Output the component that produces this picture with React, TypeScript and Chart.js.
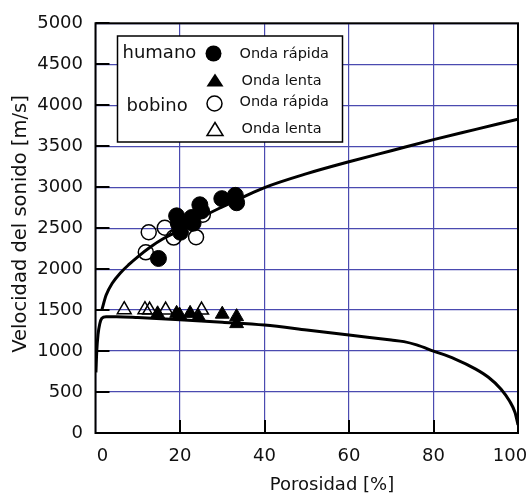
import React, { useEffect, useRef } from "react";
import { Chart, registerables } from "chart.js";

Chart.register(...registerables);

// Measured sound speed in bone samples: porosity [%] vs velocity [m/s]
const humanFastPorosity = [14.9, 19.2, 19.6, 20.1, 22.8, 23.1, 24.7, 25.1, 29.9, 33.1, 33.4];
const humanFastVelocity = [2130, 2650, 2560, 2450, 2630, 2560, 2785, 2710, 2860, 2900, 2810];

const humanSlowPorosity = [14.7, 19.2, 19.9, 22.4, 24.4, 30.0, 33.4, 33.4];
const humanSlowVelocity = [1455, 1460, 1440, 1460, 1420, 1450, 1420, 1335];

const bovineFastPorosity = [11.9, 12.6, 16.4, 18.5, 23.8, 25.4];
const bovineFastVelocity = [2205, 2450, 2505, 2385, 2390, 2665];

const bovineSlowPorosity = [6.8, 11.7, 12.8, 16.6, 25.1];
const bovineSlowVelocity = [1505, 1505, 1500, 1500, 1500];

// Theoretical curves (fast and slow wave)
const fastCurvePorosity = [1.5, 2.5, 4, 6, 8, 10, 13, 16, 20, 25, 30, 35, 40, 50, 60, 70, 80, 90, 100];
const fastCurveVelocity = [1500, 1680, 1830, 1960, 2060, 2150, 2270, 2370, 2475, 2630, 2760, 2880, 2995, 3165, 3310, 3445, 3580, 3705, 3830];

const slowCurvePorosity = [0.1, 0.3, 0.6, 1.0, 1.5, 2.5, 5, 10, 20, 30, 40, 50, 60, 70, 73, 76, 80, 85, 90, 93, 96, 98, 99.3, 100];
const slowCurveVelocity = [740, 1000, 1200, 1330, 1400, 1420, 1420, 1410, 1382, 1352, 1318, 1258, 1195, 1135, 1115, 1075, 1000, 905, 780, 680, 535, 390, 250, 100];

// Axes
const xTickValues = [0, 20, 40, 60, 80, 100];
const xTickLabels = ["0", "20", "40", "60", "80", "100"];
const yTickValues = [500, 1000, 1500, 2000, 2500, 3000, 3500, 4000, 4500, 5000];

const xTitle = "Porosidad [%]";
const yTitle = "Velocidad del sonido [m/s]";
const legendGroups = ["humano", "bobino"];
const legendWaves = ["Onda rápida", "Onda lenta", "Onda rápida", "Onda lenta"];

const FONT = '"DejaVu Sans", sans-serif';
const INK = "#111";
const GRID = "#4a4ab0";
const TICK_SIZE = 18;

const pairs = (xs: number[], ys: number[]) => xs.map((x, i) => ({ x, y: ys[i] }));

function triangle(ctx: CanvasRenderingContext2D, cx: number, cy: number, w: number, h: number) {
  ctx.beginPath();
  ctx.moveTo(cx, cy - h / 2);
  ctx.lineTo(cx + w / 2, cy + h / 2);
  ctx.lineTo(cx - w / 2, cy + h / 2);
  ctx.closePath();
}

const decor = {
  id: "decor",
  afterDraw(chart: any) {
    const { ctx, chartArea: a } = chart;
    const xs = chart.scales.x;
    const ys = chart.scales.y;
    ctx.save();

    // inward tick marks
    ctx.strokeStyle = "#000";
    ctx.lineWidth = 2;
    ctx.beginPath();
    for (const v of yTickValues) {
      const py = Math.round(ys.getPixelForValue(v));
      ctx.moveTo(a.left, py);
      ctx.lineTo(a.left + 14, py);
    }
    for (const v of xTickValues.slice(1, -1)) {
      const px = Math.round(xs.getPixelForValue(v));
      ctx.moveTo(px, a.bottom);
      ctx.lineTo(px, a.bottom - 13);
    }
    ctx.stroke();

    // frame
    ctx.lineWidth = 2;
    ctx.strokeRect(a.left, a.top, a.right - a.left, a.bottom - a.top);

    // x tick labels
    ctx.fillStyle = INK;
    ctx.font = `${TICK_SIZE}px ${FONT}`;
    ctx.textAlign = "center";
    ctx.textBaseline = "middle";
    xTickValues.forEach((v, i) => {
      let px = xs.getPixelForValue(v);
      if (i === 0) px += 7;
      if (i === xTickValues.length - 1) px -= 8;
      ctx.fillText(xTickLabels[i], px, a.bottom + 23);
    });

    // axis titles
    ctx.font = `18px ${FONT}`;
    ctx.fillText(xTitle, 332, a.bottom + 52);
    ctx.save();
    ctx.translate(21, 224);
    ctx.rotate(-Math.PI / 2);
    ctx.font = `19.5px ${FONT}`;
    ctx.fillText(yTitle, 0, 0);
    ctx.restore();

    // legend
    ctx.fillStyle = "#fff";
    ctx.fillRect(117.5, 36, 225, 106);
    ctx.strokeStyle = "#000";
    ctx.lineWidth = 1.5;
    ctx.strokeRect(117.5, 36, 225, 106);

    ctx.fillStyle = INK;
    ctx.textAlign = "left";
    ctx.font = `18px ${FONT}`;
    ctx.fillText(legendGroups[0], 122.5, 53);
    ctx.fillText(legendGroups[1], 126.5, 106);

    ctx.font = `14.5px ${FONT}`;
    ctx.fillText(legendWaves[0], 239.5, 54);
    ctx.fillText(legendWaves[1], 241.5, 81);
    ctx.fillText(legendWaves[2], 239.5, 102);
    ctx.fillText(legendWaves[3], 241.5, 129);

    ctx.fillStyle = "#000";
    ctx.strokeStyle = "#000";
    ctx.beginPath();
    ctx.arc(213.5, 53.5, 8, 0, Math.PI * 2);
    ctx.fill();
    triangle(ctx, 215, 80, 17, 13);
    ctx.fill();
    ctx.lineWidth = 1.5;
    ctx.beginPath();
    ctx.arc(214.5, 103.5, 7.5, 0, Math.PI * 2);
    ctx.stroke();
    triangle(ctx, 215, 129, 16, 13);
    ctx.stroke();

    ctx.restore();
  },
};

export default function App() {
  const ref = useRef<HTMLCanvasElement>(null);

  useEffect(() => {
    if (!ref.current) return;
    const chart = new Chart(ref.current, {
      type: "scatter",
      data: {
        datasets: [
          {
            label: "humano — Onda rápida",
            data: pairs(humanFastPorosity, humanFastVelocity),
            pointStyle: "circle",
            pointRadius: 8,
            backgroundColor: "#000",
            borderColor: "#000",
            borderWidth: 1,
          },
          {
            label: "humano — Onda lenta",
            data: pairs(humanSlowPorosity, humanSlowVelocity),
            pointStyle: "triangle",
            pointRadius: 8,
            backgroundColor: "#000",
            borderColor: "#000",
            borderWidth: 1,
          },
          {
            label: "bobino — Onda rápida",
            data: pairs(bovineFastPorosity, bovineFastVelocity),
            pointStyle: "circle",
            pointRadius: 7.5,
            backgroundColor: "rgba(0,0,0,0)",
            borderColor: "#000",
            borderWidth: 1.5,
          },
          {
            label: "bobino — Onda lenta",
            data: pairs(bovineSlowPorosity, bovineSlowVelocity),
            pointStyle: "triangle",
            pointRadius: 8,
            backgroundColor: "rgba(0,0,0,0)",
            borderColor: "#000",
            borderWidth: 1.5,
          },
          {
            label: "Onda rápida (teoría)",
            data: pairs(fastCurvePorosity, fastCurveVelocity),
            showLine: true,
            pointRadius: 0,
            borderColor: "#000",
            borderWidth: 3,
            cubicInterpolationMode: "monotone",
          },
          {
            label: "Onda lenta (teoría)",
            data: pairs(slowCurvePorosity, slowCurveVelocity),
            showLine: true,
            pointRadius: 0,
            borderColor: "#000",
            borderWidth: 3,
            cubicInterpolationMode: "monotone",
          },
        ],
      },
      options: {
        animation: false,
        responsive: false,
        maintainAspectRatio: false,
        layout: { padding: { left: 0, top: 11, right: 10, bottom: 0 } },
        plugins: { legend: { display: false }, tooltip: { enabled: false } },
        scales: {
          x: {
            type: "linear",
            min: 0,
            max: 100,
            ticks: { stepSize: 20, display: false },
            grid: { color: GRID, lineWidth: 1.2, drawTicks: false },
            border: { display: false },
            afterFit: (s: any) => {
              s.height = 65;
            },
          },
          y: {
            type: "linear",
            min: 0,
            max: 5000,
            ticks: {
              stepSize: 500,
              padding: 12.5,
              color: INK,
              font: { family: FONT, size: TICK_SIZE },
              callback: (v: any) => String(v),
            },
            grid: { color: GRID, lineWidth: 1.2, drawTicks: false },
            border: { display: false },
            afterFit: (s: any) => {
              s.width = 95.5;
            },
          },
        },
      },
      plugins: [decor],
    });
    return () => chart.destroy();
  }, []);

  return (
    <div style={{ position: "absolute", left: 0, top: 0, width: 528, height: 498 }}>
      <canvas ref={ref} width={528} height={498} style={{ width: 528, height: 498 }} />
    </div>
  );
}
